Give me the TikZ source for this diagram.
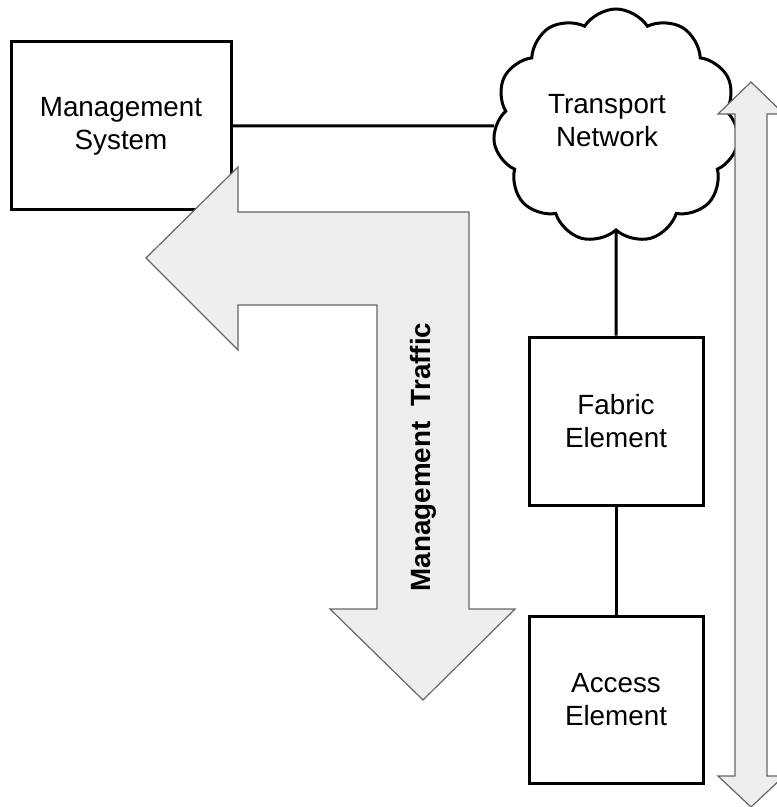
\documentclass[tikz,border=0pt]{standalone}
\usepackage{fontspec}
\setmainfont{Liberation Sans}
\usetikzlibrary{shapes.symbols}

\tikzset{
  box/.style={draw, line width=1.5pt, inner sep=0pt, align=center},
  link/.style={line width=1.5pt},
  bigarrow/.style={draw=gray!80!black, fill=gray!13, line width=0.6pt, line join=miter},
}

\begin{document}
\begin{tikzpicture}[x=0.5pt,y=-0.5pt,font=\fontsize{13.9}{16.5}\selectfont]
\useasboundingbox (0,0) rectangle (776,807);

% elements
\node[box, minimum width=110pt, minimum height=84pt] (mgmt) at (121,126) {Management\\System};
\node[cloud, cloud puffs=11, cloud puff arc=115, aspect=1.05, draw, line width=1.5pt,
  fill=white, minimum width=123pt, minimum height=117pt, inner sep=0pt] (cloud) at (616,126) {};
\node[align=center] (transport) at (607,121) {Transport\\Network};
\node[box, minimum width=87pt, minimum height=84pt] (fabric) at (616,421) {Fabric\\Element};
\node[box, minimum width=87pt, minimum height=83.5pt] (access) at (616,699.5) {Access\\Element};

\draw[link] (mgmt.east) -- (cloud.west);
\draw[link] (cloud.south) -- (fabric.north);
\draw[link] (fabric.south) -- (access.north);

% big arrows on top
\draw[bigarrow] (146,258) -- (238,167) -- (238,212) -- (469,212) -- (469,609)
  -- (515,609) -- (423,700) -- (330,609) -- (377,609) -- (377,305)
  -- (238,305) -- (238,350) -- cycle;
\node[rotate=90, font=\fontsize{13.9}{16.5}\selectfont\bfseries] (traffic) at (423,457) {Management\ \ Traffic};

\draw[bigarrow] (751,82) -- (784,114) -- (767,114) -- (767,776) -- (784,776)
  -- (751,807) -- (718,776) -- (735,776) -- (735,114) -- (718,114) -- cycle;

\end{tikzpicture}
\end{document}
